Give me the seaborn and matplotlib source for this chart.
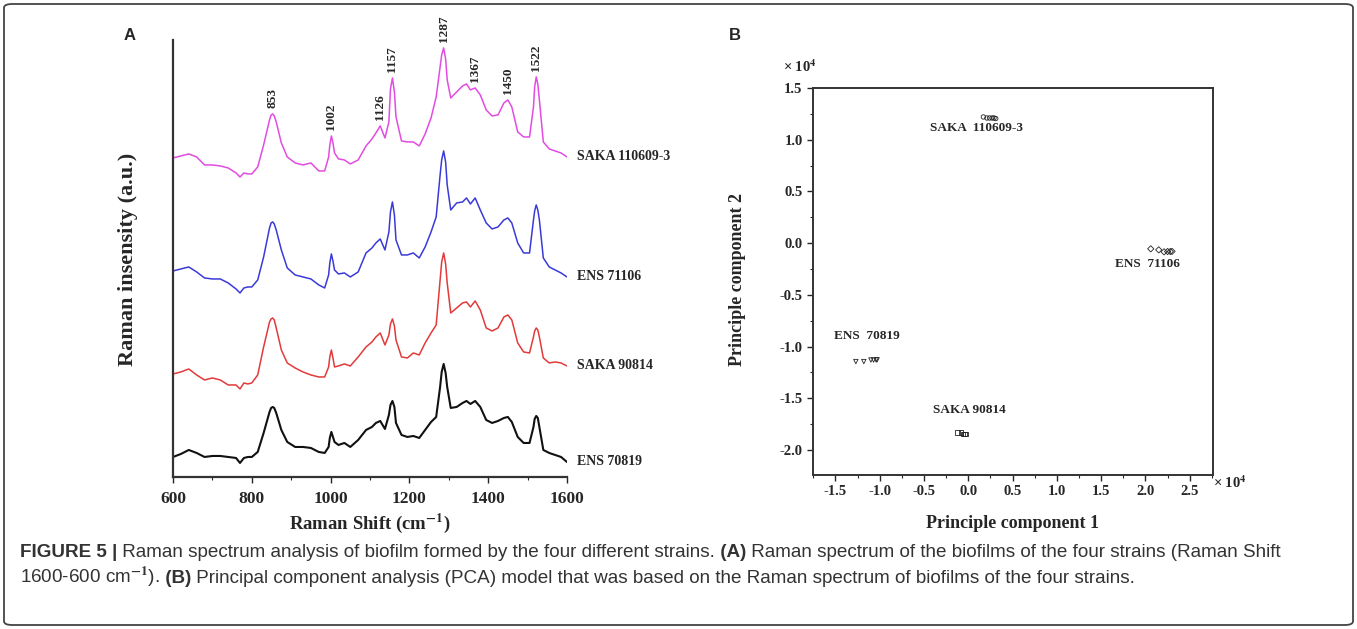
"""Raman spectra of four biofilm strains (A) and their PCA score plot (B)."""

import matplotlib
matplotlib.use("Agg")
import matplotlib.pyplot as plt
from matplotlib.patches import FancyBboxPatch
from matplotlib.ticker import MultipleLocator, FuncFormatter
import numpy as np
import seaborn as sns

# ---- Panel A data: Raman spectra (a.u.) ----
wavenumber = [600, 620, 640, 660, 680, 700, 720, 740, 760, 770, 780, 790, 800, 815,
              830, 845, 849, 853, 857, 862, 875, 890, 910, 930, 950, 970, 985, 995, 998,
              1002, 1006, 1010,
              1020, 1035, 1050, 1070, 1090, 1105, 1115, 1126, 1138, 1148, 1152, 1157, 1162, 1166,
              1180, 1195, 1210, 1225, 1240, 1255, 1268, 1278, 1282, 1287, 1292, 1296, 1305, 1320,
              1335, 1345, 1355, 1367, 1380, 1395, 1410, 1425, 1440, 1450, 1460, 1475,
              1490, 1505, 1515, 1518, 1522, 1526, 1530, 1540, 1555, 1570, 1585, 1600]

saka_110609_3 = [319, 321, 323, 320, 312, 312, 311, 309, 304, 300, 304, 303, 303, 310,
                 332, 357, 362, 363, 361, 355, 334, 320, 314, 312, 314, 306, 306, 320, 332,
                 341, 334, 324,
                 318, 317, 313, 317, 331, 338, 344, 351, 339, 355, 388, 399, 385, 360,
                 336, 335, 335, 331, 343, 359, 380, 410, 422, 429, 418, 397, 379, 385,
                 391, 393, 387, 389, 382, 367, 361, 362, 374, 377, 370, 345,
                 340, 340, 370, 390, 400, 393, 377, 335, 328, 326, 324, 320]

ens_71106 = [206, 208, 210, 205, 199, 198, 198, 194, 188, 184, 189, 190, 190, 197,
             220, 249, 254, 255, 253, 247, 227, 209, 202, 200, 198, 192, 189, 202, 214,
             223, 216, 207,
             203, 204, 200, 205, 224, 229, 234, 238, 227, 245, 265, 275, 262, 237,
             222, 222, 224, 219, 230, 245, 260, 302, 317, 326, 315, 292, 267, 274,
             275, 279, 273, 279, 267, 254, 248, 250, 257, 259, 254, 234,
             224, 224, 257, 266, 272, 267, 257, 219, 210, 207, 204, 200]

saka_90814 = [103, 105, 108, 102, 97, 99, 97, 92, 92, 88, 94, 93, 94, 102,
              130, 155, 158, 159, 157, 149, 127, 114, 109, 105, 102, 100, 100, 110, 120,
              127, 119, 110,
              111, 113, 111, 120, 130, 135, 140, 144, 132, 142, 153, 158, 151, 137,
              120, 119, 124, 122, 134, 144, 152, 197, 215, 224, 213, 194, 164, 169,
              174, 175, 170, 176, 167, 149, 146, 149, 160, 162, 157, 134,
              125, 124, 140, 146, 149, 147, 140, 119, 114, 115, 114, 111]

ens_70819 = [20, 23, 27, 24, 20, 21, 21, 20, 19, 14, 19, 20, 20, 25,
             44, 65, 69, 70, 69, 64, 47, 35, 30, 30, 29, 25, 24, 30, 39,
             45, 40, 35,
             32, 34, 30, 37, 47, 50, 54, 56, 48, 62, 72, 76, 70, 54,
             42, 40, 41, 39, 47, 55, 60, 90, 105, 113, 104, 90, 69, 70,
             74, 76, 73, 76, 70, 57, 54, 56, 59, 60, 55, 40,
             34, 34, 50, 58, 61, 59, 50, 27, 24, 22, 20, 15]

strains = ["SAKA 110609-3", "ENS 71106", "SAKA 90814", "ENS 70819"]
spectra = [saka_110609_3, ens_71106, saka_90814, ens_70819]
line_colors = ["#e24ce2", "#3a3ad8", "#e23a3a", "#111111"]
peak_labels = [853, 1002, 1126, 1157, 1287, 1367, 1450, 1522]

# ---- Panel B data: PCA scores ----
pc1_saka_110609_3 = [1700, 2100, 2400, 2700, 2900, 3100]
pc2_saka_110609_3 = [12200, 12100, 12100, 12100, 12100, 12050]
pc1_ens_71106 = [20600, 21500, 22100, 22500, 22800, 23000]
pc2_ens_71106 = [-550, -650, -840, -810, -810, -800]
pc1_ens_70819 = [-12700, -11800, -11000, -10700, -10400, -10300]
pc2_ens_70819 = [-11450, -11450, -11300, -11300, -11300, -11280]
pc1_saka_90814 = [-1200, -850, -600, -450, -300]
pc2_saka_90814 = [-18300, -18300, -18450, -18450, -18450]

pca_groups = ["SAKA  110609-3", "ENS  71106", "ENS  70819", "SAKA 90814"]
pca_pc1 = [pc1_saka_110609_3, pc1_ens_71106, pc1_ens_70819, pc1_saka_90814]
pca_pc2 = [pc2_saka_110609_3, pc2_ens_71106, pc2_ens_70819, pc2_saka_90814]
pca_markers = ["o", "D", "v", "s"]
pca_label_xy = [(900, 11100), (20200, -2000), (-11500, -9000), (100, -16100)]

# ---- Style ----
sns.set_style("ticks")
plt.rcParams["font.family"] = ["Liberation Serif", "DejaVu Serif"]
plt.rcParams["font.weight"] = "bold"
plt.rcParams["mathtext.fontset"] = "stix"

fig = plt.figure(figsize=(13.57, 6.29), dpi=100)
ax_a = fig.add_axes([0.1275, 0.2417, 0.2903, 0.6948])
ax_b = fig.add_axes([0.5991, 0.2448, 0.2948, 0.6153])

# ---- Panel A ----
for name, values, color in zip(strains, spectra, line_colors):
    lw = 1.5 if color == "#111111" else 1.1
    sns.lineplot(x=wavenumber, y=values, color=color, linewidth=lw,
                 solid_joinstyle="round", ax=ax_a)
    ax_a.annotate(name, xy=(wavenumber[-1], values[-1]), xytext=(7, 0),
                  textcoords="offset points", va="center", ha="left",
                  fontsize=10, fontweight="bold", annotation_clip=False)

top_spectrum = np.array(saka_110609_3)
for peak in peak_labels:
    height = np.interp(peak, wavenumber, top_spectrum)
    ax_a.annotate(str(peak), xy=(peak, height), xytext=(0, 4),
                  textcoords="offset points", rotation=90, ha="center",
                  va="bottom", fontsize=9.5, fontweight="bold",
                  annotation_clip=False)

ax_a.set_xlim(600, 1600)
ax_a.set_ylim(0, 437)
ax_a.set_yticks([])
ax_a.xaxis.set_major_locator(MultipleLocator(200))
ax_a.xaxis.set_minor_locator(MultipleLocator(100))
ax_a.tick_params(axis="x", which="major", direction="out", length=4, width=1,
                 labelsize=12.5, pad=6)
ax_a.tick_params(axis="x", which="minor", direction="out", length=2.5, width=0.8)
for lbl in ax_a.get_xticklabels():
    lbl.set_fontweight("bold")
sns.despine(ax=ax_a)
for side in ["left", "bottom"]:
    ax_a.spines[side].set_linewidth(1.6)
    ax_a.spines[side].set_color("#333333")

ax_a.set_xlabel("Raman Shift (cm$^{\\mathbf{-1}}$)", fontsize=13.5, fontweight="bold", va="center")
ax_a.xaxis.set_label_coords(0.5, -0.105)
ax_a.set_ylabel("Raman insensity (a.u.)", fontsize=16, fontweight="bold", va="center")
ax_a.yaxis.set_label_coords(-0.114, 0.497)

# ---- Panel B ----
for pc1, pc2, marker in zip(pca_pc1, pca_pc2, pca_markers):
    sns.scatterplot(x=pc1, y=pc2, marker=marker, s=10, color="none",
                    edgecolor="#222222", linewidth=0.6, ax=ax_b)
for label, (lx, ly) in zip(pca_groups, pca_label_xy):
    ax_b.text(lx, ly, label, ha="center", va="center", fontsize=9.5, fontweight="bold")

ax_b.set_xlim(-17540, 27630)
ax_b.set_ylim(-22420, 15000)
ax_b.xaxis.set_major_locator(MultipleLocator(5000))
ax_b.xaxis.set_minor_locator(MultipleLocator(2500))
ax_b.yaxis.set_major_locator(MultipleLocator(5000))
ax_b.yaxis.set_minor_locator(MultipleLocator(2500))
fmt = FuncFormatter(lambda v, _: f"{v / 1e4:.1f}".replace("\u2212", "-"))
ax_b.xaxis.set_major_formatter(fmt)
ax_b.yaxis.set_major_formatter(fmt)
ax_b.tick_params(which="major", direction="out", length=4, width=1, labelsize=10.5)
ax_b.tick_params(which="minor", direction="out", length=2.5, width=0.8)
for lbl in ax_b.get_xticklabels() + ax_b.get_yticklabels():
    lbl.set_fontweight("bold")
for side in ax_b.spines.values():
    side.set_linewidth(1.4)
    side.set_color("#333333")

ax_b.text(-0.075, 1.055, "\u00d7 10$^{\\mathbf{4}}$", transform=ax_b.transAxes,
          fontsize=10.5, fontweight="bold", ha="left", va="center")
ax_b.text(1.0, -0.02, "\u00d7 10$^{\\mathbf{4}}$", transform=ax_b.transAxes,
          fontsize=10.5, fontweight="bold", ha="left", va="center")

ax_b.set_xlabel("Principle component 1", fontsize=13, fontweight="bold", va="center")
ax_b.xaxis.set_label_coords(0.4975, -0.124)
ax_b.set_ylabel("Principle component 2", fontsize=13, fontweight="bold", va="center")
ax_b.yaxis.set_label_coords(-0.1875, 0.504)

# ---- Panel letters ----
fig.text(130 / 1357, 1 - 35 / 629, "A", family="Liberation Sans", fontsize=12,
         fontweight="bold", ha="center", va="center")
fig.text(735 / 1357, 1 - 35 / 629, "B", family="Liberation Sans", fontsize=12,
         fontweight="bold", ha="center", va="center")

# ---- Caption (mixed weights laid out piece by piece) ----
caption_lines = [
    [("FIGURE 5 |", "bold"),
     (" Raman spectrum analysis of biofilm formed by the four different strains.", "normal"),
     (" (A)", "bold"),
     (" Raman spectrum of the biofilms of the four strains (Raman Shift", "normal")],
    [("1600-600 cm$^{-1}$).", "normal"),
     (" (B)", "bold"),
     (" Principal component analysis (PCA) model that was based on the Raman spectrum"
      " of biofilms of the four strains.", "normal")],
]
caption_y = [1 - 557 / 629, 1 - 583 / 629]
renderer = fig.canvas.get_renderer()
for pieces, ypos in zip(caption_lines, caption_y):
    xpos = 20 / 1357
    for text, weight in pieces:
        t = fig.text(xpos, ypos, text, family="Liberation Sans",
                     fontsize=13.6, fontweight=weight, color="#333333",
                     ha="left", va="baseline")
        bb = t.get_window_extent(renderer)
        xpos += bb.width / fig.bbox.width

# ---- Outer frame ----
frame = FancyBboxPatch((4 / 1357, 4 / 629), 1 - 8 / 1357, 1 - 8 / 629,
                       boxstyle="round,pad=0,rounding_size=0.006",
                       transform=fig.transFigure, fill=False,
                       edgecolor="#444444", linewidth=1.3)
fig.patches.append(frame)

fig.savefig("out.png", dpi=100)
